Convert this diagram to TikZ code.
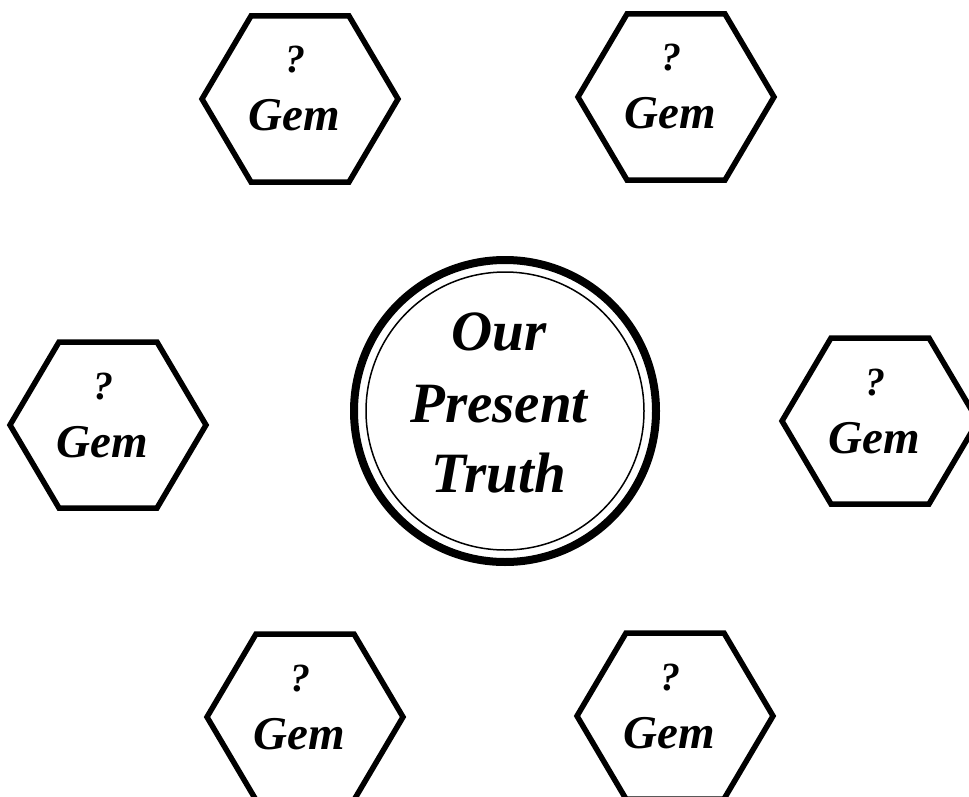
\documentclass[tikz,border=0pt]{standalone}
\usepackage{fontspec}
\setmainfont{Liberation Serif}
\tikzset{
  hexline/.style={line width=5.5pt, line join=miter},
  qmark/.style={anchor=base, inner sep=0pt, font=\fontsize{40}{40}\selectfont\bfseries\itshape},
  gemtext/.style={anchor=base, inner sep=0pt, font=\fontsize{47}{47}\selectfont\bfseries\itshape},
  truthtext/.style={anchor=base, inner sep=0pt, font=\fontsize{57}{57}\selectfont\bfseries\itshape},
  gem/.pic={
    \draw[hexline] (-98,0) -- (-49,-83) -- (49,-83) -- (98,0) -- (49,83) -- (-49,83) -- cycle;
    \node[qmark] (-q) at (-5,-26) {?};
    \node[gemtext] (-g) at (-6,32) {Gem};
  }
}
\begin{document}
\begin{tikzpicture}[x=1pt,y=-1pt]
\useasboundingbox (0,0) rectangle (969,797);
\fill[white] (0,0) rectangle (969,797);
\pic (tl) at (300,99) {gem};
\pic (tr) at (676,97) {gem};
\pic (l) at (108,425) {gem};
\pic (r) at (880,421) {gem};
\pic (bl) at (305,717) {gem};
\pic (br) at (675,716) {gem};
\coordinate (c) at (505,411);
\draw[line width=8pt] (c) circle (151);
\draw[line width=1.5pt] (c) circle (139);
\node[truthtext] (our) at (499,350) {Our};
\node[truthtext] (present) at (499,422) {Present};
\node[truthtext] (truth) at (499,492) {Truth};
\end{tikzpicture}
\end{document}
